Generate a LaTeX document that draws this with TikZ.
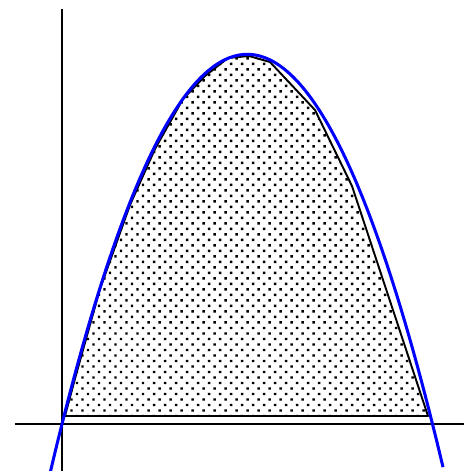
\documentclass[tikz,border=0pt]{standalone}
\usetikzlibrary{patterns}
\pgfdeclarepatternformonly{mydots}{\pgfqpoint{-1pt}{-1pt}}{\pgfqpoint{5pt}{5pt}}{\pgfqpoint{4pt}{4pt}}{%
  \pgfpathrectangle{\pgfqpoint{-0.45pt}{-0.45pt}}{\pgfqpoint{0.9pt}{0.9pt}}%
  \pgfpathrectangle{\pgfqpoint{1.55pt}{1.55pt}}{\pgfqpoint{0.9pt}{0.9pt}}%
  \pgfusepath{fill}}
\tikzset{
  axis/.style={line width=0.95pt, black},
  region/.style={line width=0.7pt, black, line join=round, pattern=mydots, pattern color=black},
  curve/.style={line width=1.1pt, blue},
}
\begin{document}
\begin{tikzpicture}[x=0.3636pt, y=-0.3636pt]
\useasboundingbox (0,0) rectangle (464,471);
% shaded region (polygonal approximation)
\draw[region] (65,416) -- (76,375) -- (100,289) -- (130,205) -- (155,149) -- (183,99)
  -- (205,76) -- (228,58) -- (249,56) -- (270,62) -- (315,110) -- (352,186) -- (428,416) -- cycle;
% axes
\draw[axis] (62,9) -- (62,471);
\draw[axis] (15,424) -- (464,424);
% parabola
\draw[curve] plot[domain=50:443, samples=120, smooth] (\x, {424-0.01078*(\x-62)*(432.5-\x)});
\end{tikzpicture}
\end{document}
